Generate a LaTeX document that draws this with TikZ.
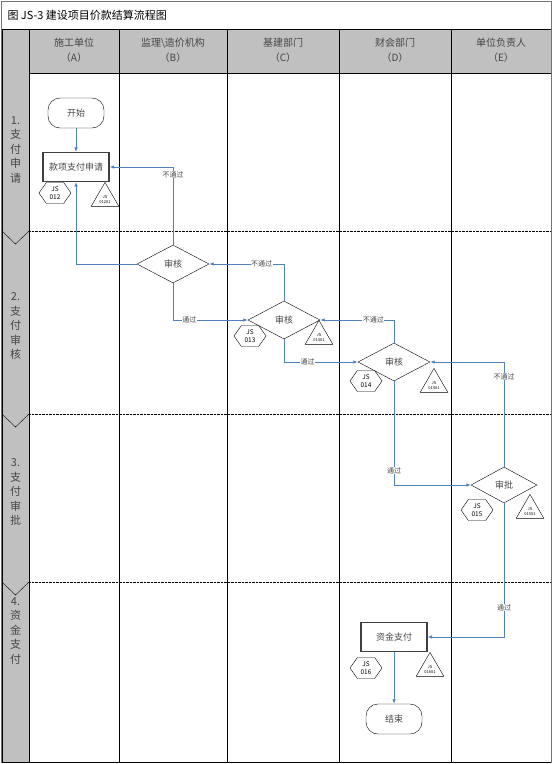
\documentclass[tikz,border=0pt]{standalone}
\usepackage{fontspec}
\setmainfont{Noto Sans CJK SC}
\usetikzlibrary{shapes.geometric,shapes.symbols,arrows.meta}
\definecolor{flowblue}{RGB}{79,129,189}
\definecolor{lanegray}{RGB}{192,192,192}
\definecolor{txtgray}{RGB}{70,70,70}

\begin{document}
\begin{tikzpicture}[x=1pt,y=-1pt,
  term/.style={draw, rounded corners=12pt, minimum width=56pt, minimum height=30pt, inner sep=0pt, text=txtgray, font=\fontsize{9}{11}\selectfont},
  task/.style={draw=black!75, line width=1.1pt, minimum width=66pt, minimum height=29pt, inner sep=0pt, text=txtgray, font=\fontsize{9}{11}\selectfont},
  check/.style={diamond, draw, aspect=1.9, minimum width=72pt, minimum height=38pt, inner sep=0pt, text=txtgray, font=\fontsize{9}{11}\selectfont},
  hexa/.style={signal, signal to=east and west, signal pointer angle=110, draw, minimum width=32pt, minimum height=21pt, inner sep=0pt, align=center, font=\fontsize{6.5}{7.5}\selectfont},
  tri/.style={regular polygon, regular polygon sides=3, draw, minimum size=32pt, inner sep=0pt, anchor=corner 1,
    label={[align=center, font=\fontsize{4}{5}\selectfont, yshift=-1pt]center:#1}},
  flow/.style={draw=flowblue, line width=0.8pt, -{Latex[length=4.5pt,width=3.5pt]}},
  edgelbl/.style={fill=white, inner sep=0.5pt, text=txtgray, font=\fontsize{7}{8}\selectfont},
  lane/.style={text=txtgray, align=center, font=\fontsize{11}{14.5}\selectfont},
  head/.style={text=txtgray, align=center, font=\fontsize{10}{15}\selectfont}]
  \useasboundingbox (0,0) rectangle (553,764);

  % frame, title and header row
  \fill[lanegray] (2,29) rectangle (551,73);
  \fill[lanegray] (2,73) rectangle (29,762);
  \draw[black!55] (1,1) rectangle (551,762);
  \draw (2,29) -- (551,29);
  \draw (29,73) -- (551,73);
  \draw[line width=1pt] (2,29) -- (2,762) -- (551,762);
  \foreach \x in {29,119,227,339,451}
    \draw (\x,29) -- (\x,762);
  \foreach \y in {231,414,582} {
    \draw[densely dotted] (29,\y) -- (551,\y);
    \draw (2,\y) -- (15.5,\y+13) -- (29,\y);
  }
  \node[anchor=west, font=\fontsize{11}{13}\selectfont] (title) at (4,15) {图 JS-3 建设项目价款结算流程图};

  \node[head] (hA) at (74,50) {施工单位\\（A）};
  \node[head] (hB) at (173,50) {监理\textbackslash 造价机构\\（B）};
  \node[head] (hC) at (283,50) {基建部门\\（C）};
  \node[head] (hD) at (395,50) {财会部门\\（D）};
  \node[head] (hE) at (501,50) {单位负责人\\（E）};

  \node[lane] (s1) at (15.5,150) {1.\\支\\付\\申\\请};
  \node[lane] (s2) at (15.5,326) {2.\\支\\付\\审\\核};
  \node[lane] (s3) at (15.5,492) {3.\\支\\付\\审\\批};
  \node[lane] (s4) at (15.5,631) {4.\\资\\金\\支\\付};

  % steps
  \node[term] (start) at (76,113) {开始};
  \node[task] (apply) at (76,167) {款项支付申请};
  \node[hexa] (hx12) at (55,193) {JS\\012};
  \node[tri={JS\\01201}] (tr12) at (105,182) {};

  \node[check] (chkB) at (173,264) {审核};

  \node[check] (chkC) at (284,320) {审核};
  \node[hexa] (hx13) at (250,336) {JS\\013};
  \node[tri={JS\\01301}] (tr13) at (319,320) {};

  \node[check] (chkD) at (394,362) {审核};
  \node[hexa] (hx14) at (366,381) {JS\\014};
  \node[tri={JS\\01401}] (tr14) at (434,368) {};

  \node[check, aspect=1.85, minimum width=66pt, minimum height=36pt] (apprE) at (504,485) {审批};
  \node[hexa] (hx15) at (477,510) {JS\\015};
  \node[tri={JS\\01501}] (tr15) at (530,494) {};

  \node[task] (pay) at (394,637) {资金支付};
  \node[hexa] (hx16) at (366,668) {JS\\016};
  \node[tri={JS\\01601}] (tr16) at (430,652) {};
  \node[term] (stop) at (394,719) {结束};

  % connectors
  \draw[flow] (start) -- (apply);
  \draw[flow] (chkB.west) -| (apply.south);
  \draw[flow] (chkB.north) |- node[edgelbl, pos=0.45] {不通过} (apply.east);
  \draw[flow] (chkB.south) |- node[edgelbl, pos=0.61] {通过} (chkC.west);
  \draw[flow] (chkC.north) |- node[edgelbl, pos=0.65] {不通过} (chkB.east);
  \draw[flow] (chkC.south) |- node[edgelbl, pos=0.66] {通过} (chkD.west);
  \draw[flow] (chkD.north) |- node[edgelbl, pos=0.64] {不通过} (chkC.east);
  \draw[flow] (apprE.north) |- node[edgelbl, pos=0.43] {不通过} (chkD.east);
  \draw[flow] (chkD.south) |- node[edgelbl, pos=0.43] {通过} (apprE.west);
  \draw[flow] (apprE.south) |- node[edgelbl, pos=0.39] {通过} (pay.east);
  \draw[flow] (pay) -- (stop);
\end{tikzpicture}
\end{document}
